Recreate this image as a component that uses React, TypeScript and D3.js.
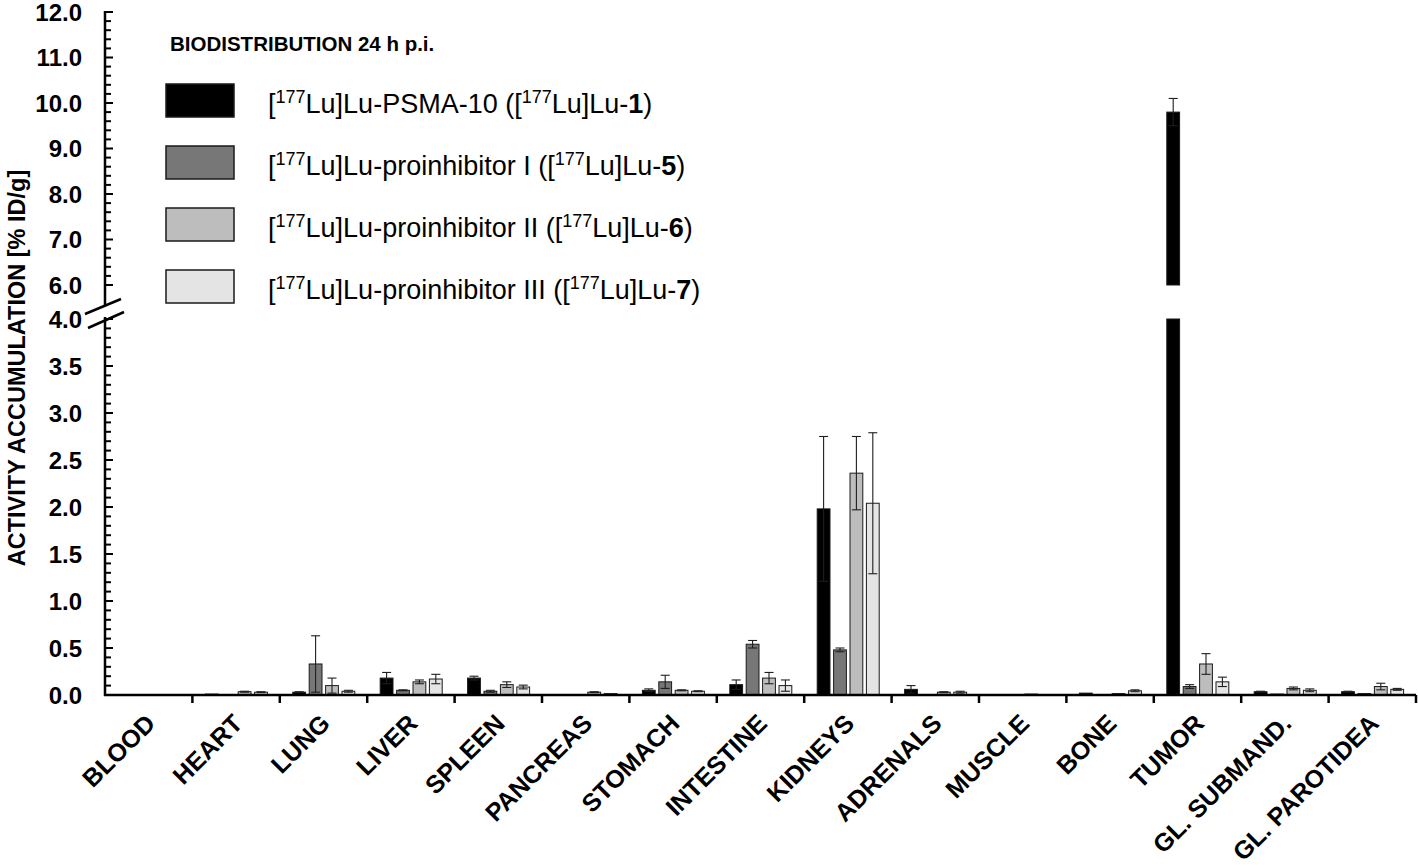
import * as d3 from 'd3';
import React from 'react';

const categories = ['BLOOD', 'HEART', 'LUNG', 'LIVER', 'SPLEEN', 'PANCREAS', 'STOMACH', 'INTESTINE',
    'KIDNEYS', 'ADRENALS', 'MUSCLE', 'BONE', 'TUMOR', 'GL. SUBMAND.', 'GL. PAROTIDEA'];

const psma10 = [0, 0.01, 0.03, 0.18, 0.18, 0.005, 0.05, 0.11, 1.98, 0.06, 0.004, 0.02, 9.8, 0.035, 0.035];
const psma10Err = [0, 0, 0.005, 0.06, 0.02, 0, 0.015, 0.05, 0.77, 0.04, 0, 0.003, 0.3, 0.005, 0.005];
const pro1 = [0, 0.005, 0.33, 0.05, 0.04, 0.005, 0.14, 0.54, 0.48, 0.003, 0.002, 0.005, 0.09, 0.01, 0.015];
const pro1Err = [0, 0, 0.3, 0.005, 0.01, 0, 0.07, 0.04, 0.02, 0, 0, 0, 0.02, 0, 0.003];
const pro2 = [0, 0.035, 0.1, 0.14, 0.11, 0.03, 0.05, 0.18, 2.36, 0.03, 0.01, 0.015, 0.33, 0.07, 0.09];
const pro2Err = [0, 0.005, 0.08, 0.02, 0.03, 0.005, 0.005, 0.06, 0.39, 0.005, 0, 0.003, 0.11, 0.015, 0.035];
const pro3 = [0, 0.03, 0.04, 0.17, 0.085, 0.015, 0.04, 0.1, 2.04, 0.03, 0.004, 0.045, 0.14, 0.05, 0.06];
const pro3Err = [0, 0.005, 0.01, 0.05, 0.02, 0.003, 0.005, 0.06, 0.75, 0.01, 0, 0.01, 0.05, 0.015, 0.01];

const seriesIds = ['s1', 's5', 's6', 's7'];
const seriesColors = ['#000000', '#777777', '#bdbdbd', '#e4e4e4'];
const seriesNames = ['PSMA-10', 'proinhibitor I', 'proinhibitor II', 'proinhibitor III'];
const seriesNums = ['1', '5', '6', '7'];
const seriesValues = [psma10, pro1, pro2, pro3];
const seriesErrors = [psma10Err, pro1Err, pro2Err, pro3Err];

const lowTicks = d3.range(0, 4.01, 0.5);
const highTicks = d3.range(6, 12.01, 1);

const FONT = '"Liberation Sans", Arial, sans-serif';

export default function App() {
    const width = 1418;
    const height = 866;
    const axisX = 105;
    const baseY = 695;

    const x = d3.scaleBand().domain(categories).range([axisX, 1416]).padding(0);
    const inner = d3.scaleBand().domain(seriesIds).range([13, 75]).paddingInner(0.22);
    const yLow = d3.scaleLinear().domain([0, 4]).range([baseY, 319]);
    const yHigh = d3.scaleLinear().domain([6, 12]).range([285, 12]);

    const yOf = (v: number) => (v <= 4 ? yLow(v) : yHigh(Math.max(v, 6)));

    const lowMinor = d3.range(0, 4.001, 0.1);
    const highMinor = d3.range(6, 12.001, 0.2);

    const bars: any[] = [];
    const errs: any[] = [];
    seriesIds.forEach((id, si) => {
        categories.forEach((c, ci) => {
            const v = seriesValues[si][ci];
            const e = seriesErrors[si][ci];
            if (v <= 0) return;
            const bx = x(c)! + inner(id)!;
            const bw = inner.bandwidth();
            if (v <= 4) {
                bars.push(<rect key={`${id}-${ci}`} x={bx} y={yLow(v)} width={bw} height={baseY - yLow(v)}
                    fill={seriesColors[si]} stroke="#1a1a1a" strokeWidth={1} />);
            } else {
                bars.push(<rect key={`${id}-${ci}-a`} x={bx} y={yLow(4)} width={bw} height={baseY - yLow(4)}
                    fill={seriesColors[si]} stroke="#1a1a1a" strokeWidth={1} />);
                bars.push(<rect key={`${id}-${ci}-b`} x={bx} y={yHigh(v)} width={bw} height={yHigh(6) - yHigh(v)}
                    fill={seriesColors[si]} stroke="#1a1a1a" strokeWidth={1} />);
            }
            if (e > 0.004) {
                const cx = bx + bw / 2;
                const top = yOf(v + e);
                const bot = yOf(Math.max(v - e, 0));
                errs.push(
                    <g key={`e-${id}-${ci}`} stroke="#1e1e1e" strokeWidth={1.1}>
                        <line x1={cx} x2={cx} y1={top} y2={bot} />
                        <line x1={cx - 4.5} x2={cx + 4.5} y1={top} y2={top} />
                        <line x1={cx - 4.5} x2={cx + 4.5} y1={bot} y2={bot} />
                    </g>
                );
            }
        });
    });

    return (
        <svg width={width} height={height} style={{ position: 'absolute', left: 0, top: 0, background: '#fff' }}
            fontFamily={FONT}>
            {/* bars */}
            {bars}
            {errs}

            {/* y axis, two segments with a break */}
            <g stroke="#000" strokeWidth={2.5}>
                <line x1={axisX} x2={axisX} y1={yHigh(12) - 1} y2={305} />
                <line x1={axisX} x2={axisX} y1={317} y2={baseY + 1} />
                <line x1={85} y1={314} x2={121} y2={299} />
                <line x1={88} y1={328} x2={124} y2={312} />
            </g>
            <g stroke="#000" strokeWidth={2}>
                {lowMinor.map((t, i) => (
                    <line key={`lm${i}`} x1={axisX} x2={axisX + (i % 5 === 0 ? 8 : 6)} y1={yLow(t)} y2={yLow(t)} />
                ))}
                {highMinor.map((t, i) => (
                    <line key={`hm${i}`} x1={axisX} x2={axisX + (i % 5 === 0 ? 8 : 6)} y1={yHigh(t)} y2={yHigh(t)} />
                ))}
            </g>
            <g fontSize={24} fontWeight="bold" textAnchor="end" fill="#000">
                {lowTicks.map(t => (
                    <text key={`lt${t}`} x={82} y={yLow(t)} dy="0.36em">{t.toFixed(1)}</text>
                ))}
                {highTicks.map(t => (
                    <text key={`ht${t}`} x={82} y={yHigh(t)} dy="0.36em">{t.toFixed(1)}</text>
                ))}
            </g>
            <text transform="translate(25,368) rotate(-90)" textAnchor="middle" fontSize={23.5} fontWeight="bold">
                ACTIVITY ACCUMULATION [% ID/g]
            </text>

            {/* x axis */}
            <line x1={axisX - 1} x2={1416} y1={baseY} y2={baseY} stroke="#000" strokeWidth={2.5} />
            <g stroke="#000" strokeWidth={2.5}>
                {categories.map(c => (
                    <line key={`xt${c}`} x1={x(c)! + x.bandwidth()} x2={x(c)! + x.bandwidth()} y1={baseY} y2={baseY + 8} />
                ))}
            </g>
            <g fontSize={25} fontWeight="bold" textAnchor="end">
                {categories.map(c => (
                    <text key={`xl${c}`} transform={`translate(${x(c)! + x.bandwidth() / 2 + 8},${baseY + 30}) rotate(-45)`}>
                        {c}
                    </text>
                ))}
            </g>

            {/* title and legend */}
            <text x={170} y={51} fontSize={20.5} fontWeight="bold">BIODISTRIBUTION 24 h p.i.</text>
            {seriesIds.map((id, i) => {
                const ly = 84 + i * 62;
                return (
                    <g key={`lg${id}`}>
                        <rect x={166} y={ly} width={68} height={33} fill={seriesColors[i]} stroke="#1a1a1a" strokeWidth={1.5} />
                        <text x={268} y={ly + 29} fontSize={27}>
                            [<tspan fontSize={18} dy={-10}>177</tspan>
                            <tspan dy={10}>Lu]Lu-{seriesNames[i]} ([</tspan>
                            <tspan fontSize={18} dy={-10}>177</tspan>
                            <tspan dy={10}>Lu]Lu-</tspan>
                            <tspan fontWeight="bold">{seriesNums[i]}</tspan>)
                        </text>
                    </g>
                );
            })}
        </svg>
    );
}
